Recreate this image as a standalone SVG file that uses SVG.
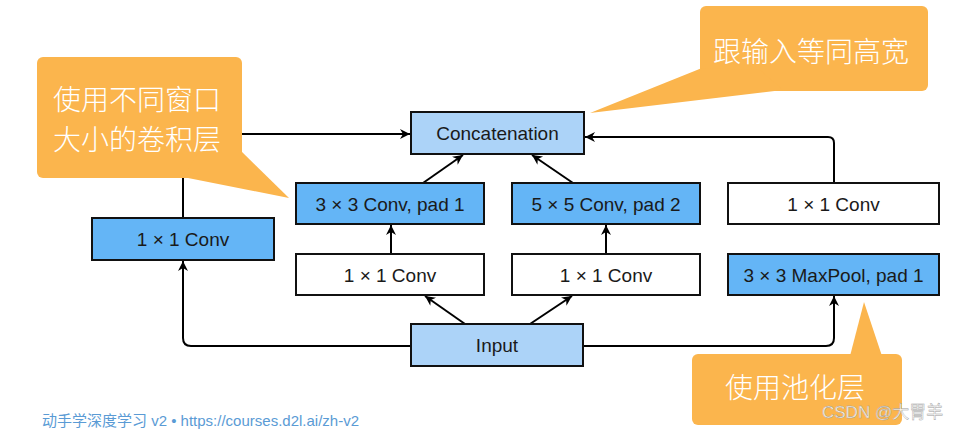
<svg xmlns="http://www.w3.org/2000/svg" width="969" height="431" viewBox="0 0 969 431">
<defs>
<marker id="arr" markerUnits="userSpaceOnUse" markerWidth="12" markerHeight="12" refX="10" refY="5" orient="auto">
<path d="M0,0 L10,5 L0,10 L3,5 Z" fill="#000"/>
</marker>
<style>
.box{stroke:#111;stroke-width:2}
.dark{fill:#64b5f6}
.light{fill:#acd3f8}
.white{fill:#fff}
.lbl{font-family:"Liberation Sans",Arial,sans-serif;font-size:19px;fill:#1a1a1a;text-anchor:middle}
.conn{fill:none;stroke:#000;stroke-width:2;marker-end:url(#arr)}
.callout{fill:#fbb54d}
.ctext{font-family:"Noto Sans CJK SC","Noto Sans",sans-serif;font-size:28px;fill:#fff;font-weight:300}
</style>
</defs>
<rect width="969" height="431" fill="#fff"/>
<g id="connectors">
<path class="conn" d="M183,218 V140 Q183,134 189,134 H410"/>
<path class="conn" d="M834,183 V143 Q834,137 828,137 H585"/>
<path class="conn" d="M423,183 L463,155"/>
<path class="conn" d="M573,183 L532,155"/>
<path class="conn" d="M391,254 V225"/>
<path class="conn" d="M606,254 V225"/>
<path class="conn" d="M465,324 L425,296"/>
<path class="conn" d="M530,324 L572,296"/>
<path class="conn" d="M411,346 H191 Q183,346 183,338 V261"/>
<path class="conn" d="M583,346 H826 Q834,346 834,338 V296"/>
</g>
<g id="concat"><rect class="box light" x="411" y="112" width="173" height="42"/><text class="lbl" x="497.5" y="140">Concatenation</text></g>
<g id="conv3"><rect class="box dark" x="296" y="183" width="188" height="41"/><text class="lbl" x="390" y="210.5">3 × 3 Conv, pad 1</text></g>
<g id="conv5"><rect class="box dark" x="512" y="183" width="188" height="41"/><text class="lbl" x="606" y="210.5">5 × 5 Conv, pad 2</text></g>
<g id="conv1d"><rect class="box white" x="728" y="183" width="211" height="41"/><text class="lbl" x="833.5" y="210.5">1 × 1 Conv</text></g>
<g id="conv1a"><rect class="box dark" x="92" y="218" width="182" height="42"/><text class="lbl" x="183" y="246">1 × 1 Conv</text></g>
<g id="conv1b"><rect class="box white" x="296" y="254" width="188" height="41"/><text class="lbl" x="390" y="281.5">1 × 1 Conv</text></g>
<g id="conv1c"><rect class="box white" x="512" y="254" width="188" height="41"/><text class="lbl" x="606" y="281.5">1 × 1 Conv</text></g>
<g id="maxpool"><rect class="box dark" x="728" y="254" width="211" height="41"/><text class="lbl" x="833.5" y="281.5">3 × 3 MaxPool, pad 1</text></g>
<g id="input"><rect class="box light" x="411" y="324" width="172" height="42"/><text class="lbl" x="497" y="352">Input</text></g>
<g id="callout-left">
<rect class="callout" x="37" y="57" width="205" height="121" rx="6"/>
<polygon class="callout" points="240,150 289,198 183,177 200,150"/>
<text class="ctext" x="53" y="110">使用不同窗口</text>
<text class="ctext" x="53" y="150">大小的卷积层</text>
</g>
<g id="callout-top">
<rect class="callout" x="700" y="6" width="228" height="85" rx="6"/>
<polygon class="callout" points="702,68 590,113 783,90 760,70"/>
<text class="ctext" x="713" y="62">跟输入等同高宽</text>
</g>
<g id="callout-bottom">
<rect class="callout" x="692" y="354" width="210" height="71" rx="6"/>
<polygon class="callout" points="850,356 864,302 882,356"/>
<text class="ctext" x="725" y="398">使用池化层</text>
</g>
<text x="822" y="418" font-family="Liberation Sans,'Noto Sans CJK SC',sans-serif" font-size="17" fill="#fff" fill-opacity="0.85" stroke="#999" stroke-width="0.4">CSDN @大胃羊</text>
<text x="42" y="426" font-family="'Liberation Sans','Noto Sans CJK SC',sans-serif" font-size="15" fill="#5a9bd5">动手学深度学习 v2 • https://courses.d2l.ai/zh-v2</text>
</svg>
